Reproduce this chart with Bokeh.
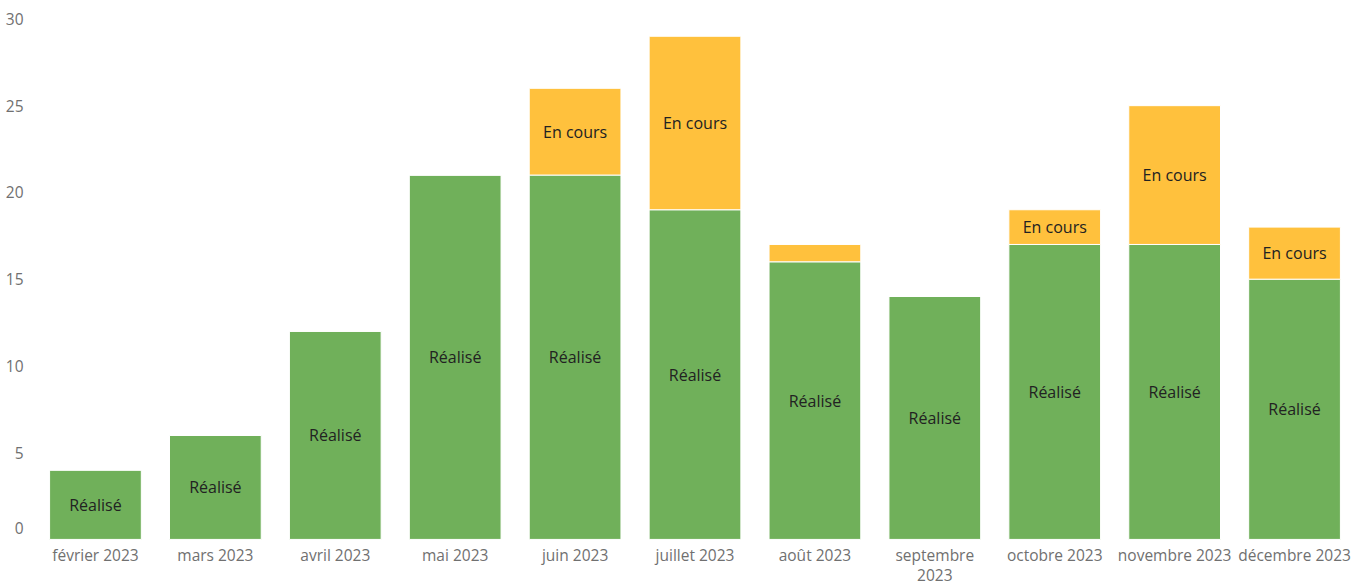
from bokeh.plotting import figure
from bokeh.models import ColumnDataSource, Range1d, FactorRange
from bokeh.core.properties import value
from bokeh.embed import file_html
from bokeh.resources import INLINE

months = ["février 2023", "mars 2023", "avril 2023", "mai 2023", "juin 2023", "juillet 2023",
          "août 2023", "septembre 2023", "octobre 2023", "novembre 2023", "décembre 2023"]
realise = [4, 6, 12, 21, 21, 19, 16, 14, 17, 17, 15]
en_cours = [0, 0, 0, 0, 5, 10, 1, 0, 2, 8, 3]
y_ticks = [0, 5, 10, 15, 20, 25, 30]

GREEN = "#70B05A"
YELLOW = "#FFC13D"
FONT = "Open Sans"
AXIS_GRAY = "#707070"
PX_PER_UNIT = 17.35  # vertical scale used to place text below the baseline
FRAME_H = 577

src = ColumnDataSource(dict(month=months, realise=realise, en_cours=en_cours))

p = figure(x_range=FactorRange(*months, range_padding=0),
           y_range=Range1d(30.6 - FRAME_H / PX_PER_UNIT, 30.6),
           width=1354, height=FRAME_H + 8, output_backend="svg", toolbar_location=None,
           min_border_left=35, min_border_right=0, min_border_top=8, min_border_bottom=0)

p.vbar_stack(["realise", "en_cours"], x="month", width=0.765, source=src,
             color=[GREEN, YELLOW], line_color="white", line_width=1)

# in-bar labels
r_y = [v / 2 for v in realise]
e_x = [m for m, e in zip(months, en_cours) if e >= 2]
e_y = [r + e / 2 for r, e in zip(realise, en_cours) if e >= 2]
p.text(x=months, y=r_y, text=["Réalisé"] * len(months), text_align="center", text_baseline="middle",
       text_font=value(FONT), text_font_size="16px", text_color="#222222")
p.text(x=e_x, y=e_y, text=["En cours"] * len(e_x), text_align="center", text_baseline="middle",
       text_font=value(FONT), text_font_size="16px", text_color="#222222")

# category labels below the bars (septembre wraps on two lines)
cat_labels = [m.replace(" ", "\n") if m.startswith("septembre") else m for m in months]
p.text(x=months, y=[-5 / PX_PER_UNIT] * len(months), text=cat_labels, text_align="center",
       text_baseline="top", text_line_height=0.88,
       text_font=value(FONT), text_font_size="15.5px", text_color=AXIS_GRAY)

p.outline_line_color = None
p.grid.grid_line_color = None
p.xaxis.visible = False

zero_shift = 11 / PX_PER_UNIT
p.yaxis.ticker = [t if t != 0 else zero_shift for t in y_ticks]
p.yaxis.major_label_overrides = {zero_shift: "0"}
p.yaxis.axis_line_color = None
p.yaxis.major_tick_line_color = None
p.yaxis.minor_tick_line_color = None
p.yaxis.major_label_text_font = FONT
p.yaxis.major_label_text_font_size = "15.5px"
p.yaxis.major_label_text_color = AXIS_GRAY
p.yaxis.major_label_standoff = 6

open("out.html", "w").write(file_html(p, INLINE))
